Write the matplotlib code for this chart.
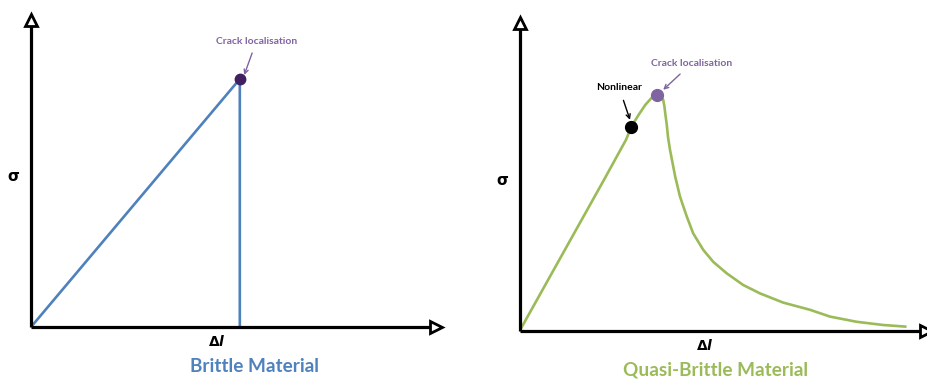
import numpy as np
import matplotlib
matplotlib.use('Agg')
import matplotlib.pyplot as plt

plt.rcParams['font.family'] = ['Lato', 'DejaVu Sans']
plt.rcParams['mathtext.fontset'] = 'custom'
plt.rcParams['mathtext.rm'] = 'DejaVu Sans:bold'
plt.rcParams['mathtext.it'] = 'DejaVu Sans:bold:italic'

# Brittle material: linear up to the crack, then a sudden drop
brittle_dl = [0.0, 5.22, 5.22]
brittle_sigma = [0.0, 6.2, 0.0]
brittle_crack = (5.22, 6.2)

# Quasi-brittle material: linear, nonlinear bit before the peak, then softening tail
quasi_dl = [0.0, 2.10, 2.65, 2.78, 2.95, 3.13, 3.29, 3.43, 3.53, 3.58, 3.61, 3.63, 3.67, 3.70,
            3.75, 3.88, 4.00, 4.17, 4.33, 4.58, 4.83, 5.17, 5.58, 6.00, 6.58, 7.25, 7.75,
            8.42, 9.08, 9.63]
quasi_sigma = [0.02, 3.78, 4.78, 5.10, 5.38, 5.65, 5.83, 5.90, 5.86, 5.78, 5.62, 5.45, 5.15, 4.85,
               4.53, 3.86, 3.36, 2.86, 2.44, 2.03, 1.73, 1.44, 1.15, 0.94, 0.71, 0.53, 0.36,
               0.23, 0.15, 0.11]
quasi_nonlinear = (2.78, 5.10)
quasi_crack = (3.43, 5.90)

BLUE = '#4f81bd'
GREEN = '#9bbb59'
PURPLE = '#8064a2'
DARKPURPLE = '#402060'

W, H = 927, 381
fig = plt.figure(figsize=(W / 100, H / 100), dpi=100)
fig.patch.set_facecolor('white')

SCALE = 40.0  # px per data unit


def make_panel(x0, y0):
    # x0, y0 = pixel position of the origin of the sketch axes
    w, h = 420, 320
    ax = fig.add_axes([x0 / W, (H - y0) / H, w / W, h / H])
    ax.set_xlim(0, w / SCALE)
    ax.set_ylim(0, h / SCALE)
    ax.axis('off')
    return ax


def draw_axes(ax, xend, yend):
    ax.plot([0, xend], [0, 0], color='black', lw=2.3, clip_on=False, solid_capstyle='butt', zorder=3)
    ax.plot([0, 0], [0, yend], color='black', lw=2.3, clip_on=False, solid_capstyle='butt', zorder=3)
    ax.plot(xend, 0, marker='>', ms=8, mfc='white', mec='black', mew=2.0, clip_on=False, zorder=4)
    ax.plot(0, yend, marker='^', ms=8, mfc='white', mec='black', mew=2.0, clip_on=False, zorder=4)
    ax.text(-0.43, yend * 0.49, 'σ', fontsize=11, fontweight='bold', family='DejaVu Sans',
            ha='center', va='center')


# left panel
ax1 = make_panel(31, 327)
draw_axes(ax1, 10.12, 7.68)
ax1.plot(brittle_dl, brittle_sigma, color=BLUE, lw=1.9, zorder=2)
ax1.plot(*brittle_crack, 'o', ms=7.5, color=DARKPURPLE, zorder=5)
ax1.annotate('Crack localisation', xy=(5.33, 6.3), xytext=(5.63, 7.13), ha='center', va='center',
             fontsize=7.5, fontweight='bold', color=PURPLE, annotation_clip=False,
             arrowprops=dict(arrowstyle='->', color=PURPLE, lw=1.0, shrinkA=3, shrinkB=0))
ax1.text(4.65, -0.33, r'$\Delta l$', fontsize=10, ha='center', va='center')
ax1.text(5.6, -1.0, 'Brittle Material', fontsize=13.7, fontweight='bold', color=BLUE,
         ha='center', va='center')

# right panel
ax2 = make_panel(520, 331)
draw_axes(ax2, 10.16, 7.7)
ax2.plot(quasi_dl, quasi_sigma, color=GREEN, lw=1.9, zorder=2, solid_joinstyle='round')
ax2.plot(*quasi_nonlinear, 'o', ms=8.5, color='black', zorder=5)
ax2.plot(*quasi_crack, 'o', ms=8.5, color=PURPLE, zorder=5)
ax2.annotate('Nonlinear', xy=(2.75, 5.28), xytext=(2.48, 6.08), ha='center', va='center',
             fontsize=7.5, fontweight='bold', color='black', annotation_clip=False,
             arrowprops=dict(arrowstyle='->', color='black', lw=1.0, shrinkA=4, shrinkB=0))
ax2.annotate('Crack localisation', xy=(3.58, 6.03), xytext=(4.3, 6.7), ha='center', va='center',
             fontsize=7.5, fontweight='bold', color=PURPLE, annotation_clip=False,
             arrowprops=dict(arrowstyle='->', color=PURPLE, lw=1.0, shrinkA=4, shrinkB=0))
ax2.text(4.63, -0.35, r'$\Delta l$', fontsize=10, ha='center', va='center')
ax2.text(4.9, -0.98, 'Quasi-Brittle Material', fontsize=13.7, fontweight='bold', color=GREEN,
         ha='center', va='center')

fig.savefig('out.png', dpi=100, facecolor='white')
